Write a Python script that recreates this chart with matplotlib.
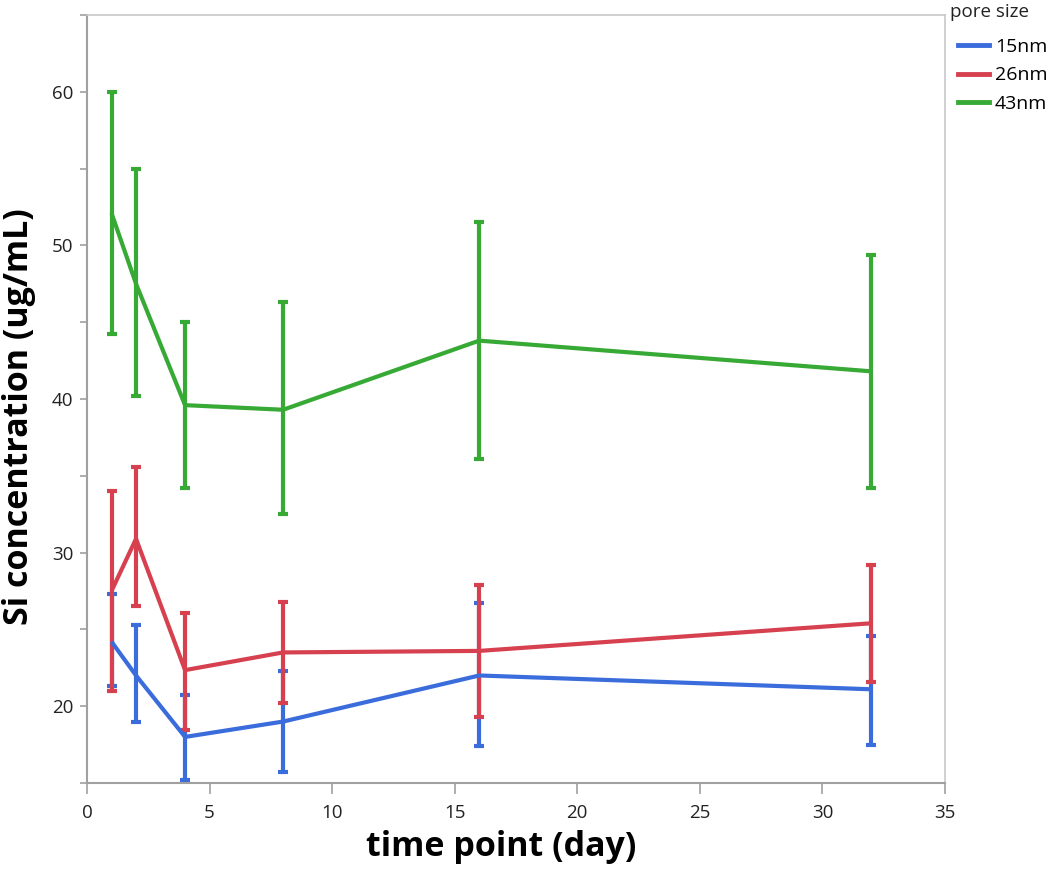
import matplotlib
matplotlib.use('Agg')
import matplotlib.pyplot as plt
from matplotlib.lines import Line2D
from matplotlib.ticker import MultipleLocator

plt.rcParams['font.family'] = ['Open Sans', 'DejaVu Sans']

days = [1, 2, 4, 8, 16, 32]
series_names = ['15nm', '26nm', '43nm']

mean_15 = [24.2, 22.0, 18.0, 19.0, 22.0, 21.1]
upper_15 = [27.3, 25.3, 20.7, 22.3, 26.7, 24.6]
lower_15 = [21.3, 19.0, 15.2, 15.7, 17.4, 17.5]

mean_26 = [27.5, 30.9, 22.35, 23.5, 23.6, 25.4]
upper_26 = [34.0, 35.6, 26.1, 26.8, 27.9, 29.2]
lower_26 = [21.0, 26.5, 18.45, 20.2, 19.3, 21.6]

mean_43 = [52.1, 47.5, 39.6, 39.3, 43.8, 41.8]
upper_43 = [60.0, 55.0, 45.0, 46.3, 51.5, 49.4]
lower_43 = [44.2, 40.2, 34.2, 32.5, 36.1, 34.2]

colors = ['#3b6cdc', '#d6404f', '#37a935']

fig = plt.figure(figsize=(10.5, 8.69), dpi=100)
ax = fig.add_axes([87 / 1050, 1 - 783 / 869, (945 - 87) / 1050, (783 - 15) / 869])

data = [(mean_15, upper_15, lower_15), (mean_26, upper_26, lower_26), (mean_43, upper_43, lower_43)]
for name, col, (m, up, lo) in zip(series_names, colors, data):
    err = [[a - b for a, b in zip(m, lo)], [b - a for a, b in zip(m, up)]]
    ax.errorbar(days, m, yerr=err, color=col, lw=3, elinewidth=3,
                capsize=3.5, capthick=3, solid_capstyle='butt')

ax.set_xlim(0, 35)
ax.set_ylim(15, 65)
ax.xaxis.set_major_locator(MultipleLocator(5))
ax.yaxis.set_minor_locator(MultipleLocator(5))
ax.set_yticks([20, 30, 40, 50, 60])

for s in ['left', 'bottom']:
    ax.spines[s].set_color('#a0a0a0')
    ax.spines[s].set_linewidth(1.5)
for s in ['top', 'right']:
    ax.spines[s].set_color('#c8c8c8')
    ax.spines[s].set_linewidth(1.2)

ax.tick_params(which='both', direction='out', color='#a0a0a0', width=1.2, labelsize=13.5, labelcolor='#222222')
ax.tick_params(axis='x', which='major', length=8, pad=7)
ax.tick_params(axis='y', which='major', length=5, pad=5)
ax.tick_params(axis='y', which='minor', length=5)

ax.set_xlabel('time point (day)', fontsize=24.5, fontweight='bold')
ax.set_ylabel('Si concentration (ug/mL)', fontsize=24.5, fontweight='bold')
ax.xaxis.set_label_coords(0.483, -0.061)
ax.yaxis.set_label_coords(-0.059, 0.477)

fig.text(950 / 1050, 1 - 12 / 869, 'pore size', fontsize=13.5, ha='left', va='center', color='#222222')
handles = [Line2D([], [], color=c, lw=3.5) for c in colors]
leg = fig.legend(handles, series_names, loc='upper left', bbox_to_anchor=(950 / 1050, 1 - 30 / 869),
                 frameon=False, fontsize=14, handlelength=1.6,
                 handletextpad=0.3, labelspacing=0.55, borderaxespad=0)

fig.savefig('out.png', dpi=100)
